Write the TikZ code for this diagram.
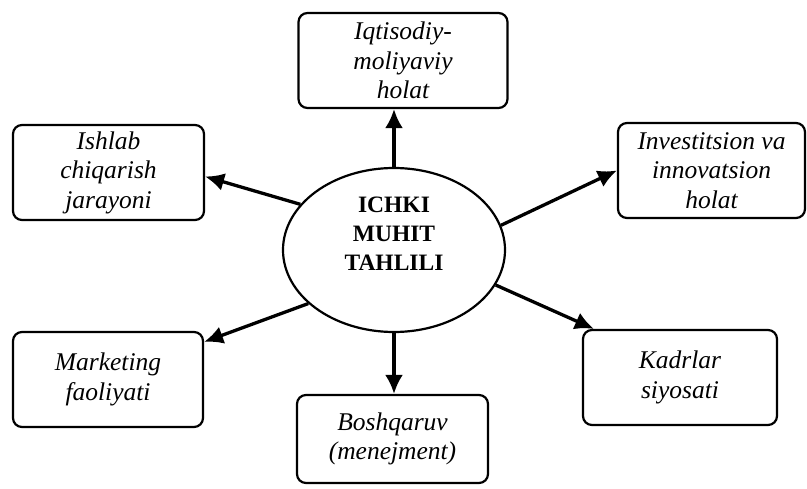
\documentclass[tikz,border=0pt]{standalone}
\usepackage{fontspec}
\setmainfont{Liberation Serif}
\usetikzlibrary{arrows.meta,shapes.geometric,calc}
\begin{document}
\begin{tikzpicture}[x=1pt,y=-1pt,
  box/.style={draw, line width=2.2pt, rounded corners=9pt, inner sep=0pt, align=center,
    minimum height=95pt, font=\itshape\fontsize{25.5}{29.5}\selectfont},
  arr/.style={line width=3.3pt, -{Latex[length=19pt,width=18pt]}},
]
\useasboundingbox (0,0) rectangle (807,489);
\node[ellipse, draw, line width=2.2pt, minimum width=222pt, minimum height=164pt, inner sep=0pt] (c) at (394,250) {};
\node[font=\bfseries\fontsize{23.5}{29}\selectfont, align=center] (ct) at (394,234) {ICHKI\\MUHIT\\TAHLILI};
\node[box, minimum width=209pt] (t) at (403,60.5) {Iqtisodiy-\\moliyaviy\\holat};
\node[box, minimum width=191pt] (ul) at (108.5,172.5) {Ishlab\\chiqarish\\jarayoni};
\node[box, minimum width=187pt] (ur) at (711.5,170.5) {Investitsion va\\innovatsion\\holat};
\node[box, minimum width=190pt] (ll) at (108,379.5) {Marketing\\faoliyati};
\node[box, minimum width=194pt] (lr) at (680,377.5) {Kadrlar\\siyosati};
\node[box, minimum width=191pt, minimum height=88pt] (b) at (392.5,439) {Boshqaruv\\(menejment)};
\draw[arr] (c.north) -- (c.north |- t.south);
\draw[arr] (c.south) -- (c.south |- b.north);
\draw[arr] (c.154) -- ($(ul.east)+(0,4)$);
\draw[arr] (c.13) -- (ur.west);
\draw[arr] (c.212) -- ($(ll.north east)+(0,11)$);
\draw[arr] (c.341) -- ($(lr.north west)+(12,0)$);
\end{tikzpicture}
\end{document}
